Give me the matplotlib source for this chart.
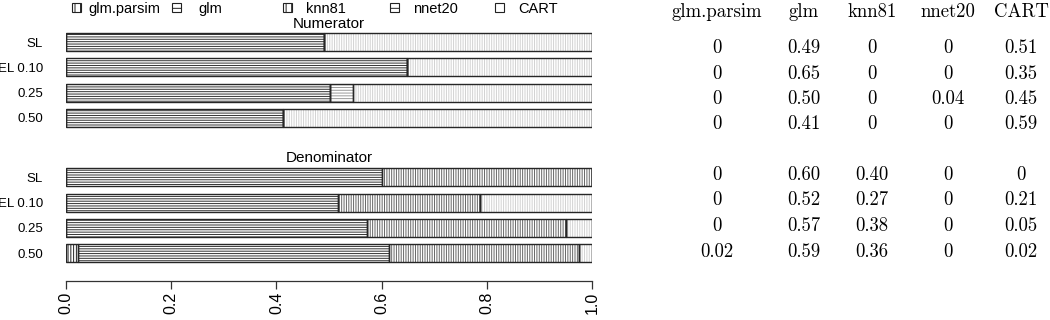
import matplotlib
matplotlib.use("Agg")
import matplotlib.pyplot as plt
from matplotlib.patches import Patch

# ---------------- data ----------------
categories = ["SL", "EL 0.10", "0.25", "0.50"]
methods = ["glm.parsim", "glm", "knn81", "nnet20", "CART"]

num_glm_parsim = [0, 0, 0, 0]
num_glm = [0.49, 0.648, 0.502, 0.412]
num_knn81 = [0, 0, 0, 0]
num_nnet20 = [0, 0, 0.044, 0]
num_cart = [0.51, 0.352, 0.454, 0.588]

den_glm_parsim = [0, 0, 0, 0.023]
den_glm = [0.60, 0.517, 0.572, 0.591]
den_knn81 = [0.40, 0.27, 0.378, 0.362]
den_nnet20 = [0, 0, 0, 0]
den_cart = [0, 0.213, 0.05, 0.024]

x_ticks = [0.0, 0.2, 0.4, 0.6, 0.8, 1.0]
x_ticklabels = ["0.0", "0.2", "0.4", "0.6", "0.8", "1.0"]

numerator = [num_glm_parsim, num_glm, num_knn81, num_nnet20, num_cart]
denominator = [den_glm_parsim, den_glm, den_knn81, den_nnet20, den_cart]

# ---------------- styles ----------------
hatches = ["||||||", "-------", "|||||||", "------", "|||||||"]
hatch_colors = ["#222222", "#333333", "#666666", "#999999", "#d2d2d2"]
legend_hatches = ["|||", "---", "|||", "---", ""]

plt.rcParams["hatch.linewidth"] = 0.7
plt.rcParams["font.family"] = ["Liberation Sans", "DejaVu Sans"]

W, H = 1050, 320
fig = plt.figure(figsize=(W / 100, H / 100), dpi=100)

def fx(px):
    return px / W

def fy(py):
    return 1 - py / H

# axes spanning x=0..1 between pixel 66 and 592
ax_top, ax_bot = 30, 281
ax = fig.add_axes([fx(66), fy(ax_bot), fx(592) - fx(66), (ax_bot - ax_top) / H])

row_px = 25.3
first_px = 42
num_pos = [i for i in range(4)]
den_pos = [5.35 + i for i in range(4)]
bar_h = 0.71

def draw_group(data, pos):
    lefts = [0.0] * len(pos)
    for k, vals in enumerate(data):
        ax.barh(pos, vals, left=lefts, height=bar_h, color="white",
                edgecolor=hatch_colors[k], hatch=hatches[k], linewidth=0)
        lefts = [l + v for l, v in zip(lefts, vals)]
    lefts = [0.0] * len(pos)
    for k, vals in enumerate(data):
        ax.barh(pos, vals, left=lefts, height=bar_h, fill=False,
                edgecolor="#262626", linewidth=1.0)
        lefts = [l + v for l, v in zip(lefts, vals)]

draw_group(numerator, num_pos)
draw_group(denominator, den_pos)

ax.set_xlim(0, 1)
ax.set_ylim((ax_bot - first_px) / row_px, (ax_top - first_px) / row_px)
for s in ["left", "top", "right"]:
    ax.spines[s].set_visible(False)
ax.spines["bottom"].set_bounds(0, 1)
ax.spines["bottom"].set_linewidth(0.9)
ax.spines["bottom"].set_color("#333333")
ax.set_xticks(x_ticks)
ax.set_xticklabels(x_ticklabels, rotation=90, fontsize=11.5)
ax.tick_params(axis="x", direction="out", length=5.5, width=0.9, pad=2, colors="#333333")
ax.tick_params(axis="x", labelcolor="black")
ax.set_yticks(num_pos + den_pos)
ax.set_yticklabels(categories + categories, fontsize=9.5)
ax.tick_params(axis="y", length=0, pad=16.5)
ax.patch.set_alpha(0)

# group titles
fig.text(fx(329), fy(28), "Numerator", ha="center", va="baseline", fontsize=11)
fig.text(fx(329), fy(162), "Denominator", ha="center", va="baseline", fontsize=11)

# legend items
leg_x = [72, 172, 283, 390, 495]
leg_pad = [0.5, 1.2, 1.0, 1.0, 1.0]
for k, m in enumerate(methods):
    h = Patch(facecolor="white", edgecolor="#222222", hatch=legend_hatches[k], linewidth=0.8)
    fig.legend([h], [m], loc="center left", bbox_to_anchor=(fx(leg_x[k]), fy(9)),
               frameon=False, fontsize=10.5, borderpad=0, borderaxespad=0,
               handlelength=0.6, handleheight=0.6, handletextpad=leg_pad[k])

# table
serif = ["cmr10", "DejaVu Serif"]
col_x = [717, 804, 872, 948, 1021]
num_row_y = [48, 74, 99, 124]
den_row_y = [175, 200, 226, 252]

def fmt(v):
    return "0" if v == 0 else f"{v:.2f}"

for j, m in enumerate(methods):
    fig.text(fx(col_x[j]), fy(12), m, ha="center", va="center", fontsize=13.5, family=serif)
    for i in range(4):
        fig.text(fx(col_x[j]), fy(num_row_y[i]), fmt(numerator[j][i]), ha="center",
                 va="center", fontsize=13.5, family=serif)
        fig.text(fx(col_x[j]), fy(den_row_y[i]), fmt(denominator[j][i]), ha="center",
                 va="center", fontsize=13.5, family=serif)

fig.savefig("out.png", dpi=100)
